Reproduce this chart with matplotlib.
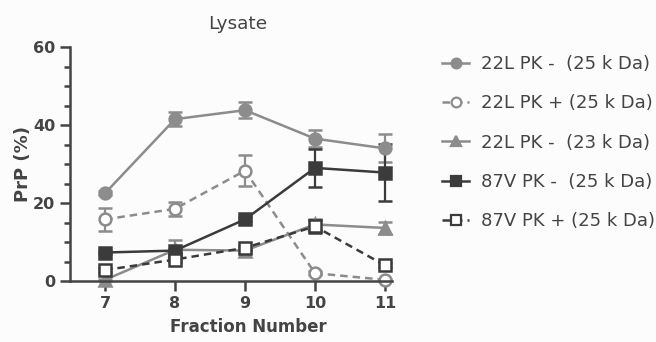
import matplotlib.pyplot as plt
from matplotlib.lines import Line2D
from matplotlib.ticker import MultipleLocator

plt.rcParams['font.family'] = ['DejaVu Sans']

# Data
fractions = [7, 8, 9, 10, 11]

l22_neg25 = [22.5, 41.5, 43.8, 36.5, 34.0]
l22_neg25_err = [0.5, 1.8, 2.0, 2.2, 3.6]

l22_pos25 = [15.8, 18.5, 28.3, 2.0, 0.3]
l22_pos25_err = [3.0, 1.8, 4.0, 0.5, 0.3]

l22_neg23 = [0.3, 8.0, 7.8, 14.5, 13.6]
l22_neg23_err = [0.3, 2.6, 0.5, 1.5, 1.5]

v87_neg25 = [7.3, 7.8, 15.8, 29.0, 27.8]
v87_neg25_err = [0.5, 0.5, 0.5, 4.8, 7.3]

v87_pos25 = [2.8, 5.5, 8.5, 14.0, 4.0]
v87_pos25_err = [0.5, 0.5, 0.5, 1.6, 0.5]

labels = ['22L PK -  (25 k Da)', '22L PK + (25 k Da)', '22L PK -  (23 k Da)',
          '87V PK -  (25 k Da)', '87V PK + (25 k Da)']

GREY = '#8c8c8c'
DARK = '#3b3b3b'
TXT = '#444444'

fig = plt.figure(figsize=(6.56, 3.42), dpi=100)
fig.patch.set_facecolor('#fcfcfc')
ax = fig.add_axes([70 / 656, 1 - 281 / 342, 322 / 656, 234 / 342])
ax.set_facecolor('#fcfcfc')

series = [
    (l22_neg25, l22_neg25_err, GREY, 'o', 'full', '-'),
    (l22_pos25, l22_pos25_err, GREY, 'o', 'none', (0, (3, 2))),
    (l22_neg23, l22_neg23_err, GREY, '^', 'full', '-'),
    (v87_neg25, v87_neg25_err, DARK, 's', 'full', '-'),
    (v87_pos25, v87_pos25_err, DARK, 's', 'none', (0, (3, 2))),
]

handles = []
for vals, err, col, mk, fill, ls in series:
    face = col if fill == 'full' else 'white'
    ax.errorbar(fractions, vals, yerr=err, color=col, marker=mk,
                markersize=8.5, markeredgewidth=1.8, markerfacecolor=face,
                linestyle=ls, linewidth=1.8, elinewidth=1.6,
                capsize=5, capthick=1.6, clip_on=False)
    handles.append(Line2D([], [], color=col, marker=mk, markersize=7,
                          markeredgewidth=1.6, markerfacecolor=face,
                          linestyle=ls, linewidth=1.8))

ax.set_xlim(6.5, 11.1)
ax.set_ylim(0, 60)
ax.set_xticks(fractions)
ax.yaxis.set_major_locator(MultipleLocator(20))
ax.yaxis.set_minor_locator(MultipleLocator(5))

for s in ['top', 'right']:
    ax.spines[s].set_visible(False)
for s in ['left', 'bottom']:
    ax.spines[s].set_linewidth(1.8)
    ax.spines[s].set_color(TXT)

ax.tick_params(axis='both', which='major', length=7, width=1.8, colors=TXT,
               labelsize=11.5, labelcolor=TXT)
ax.tick_params(axis='y', which='minor', length=4, width=1.8, colors=TXT)
for t in ax.get_xticklabels() + ax.get_yticklabels():
    t.set_fontweight('bold')

ax.set_xlabel('Fraction Number', fontsize=12, fontweight='bold', color=TXT, labelpad=6)
ax.xaxis.set_label_coords(0.553, -0.16)
ax.set_ylabel('PrP (%)', fontsize=13, fontweight='bold', color=TXT, labelpad=1)
ax.set_title('Lysate', fontsize=13.3, color=TXT, pad=13, x=0.52)

fig.legend(handles=handles, labels=labels, loc='upper left',
           bbox_to_anchor=(442 / 656, 1 - 55 / 342), frameon=False,
           fontsize=13, labelspacing=1.18, handlelength=1.5,
           handletextpad=0.65, borderpad=0, borderaxespad=0, labelcolor=TXT)

fig.savefig('out.png', dpi=100, facecolor=fig.get_facecolor())
